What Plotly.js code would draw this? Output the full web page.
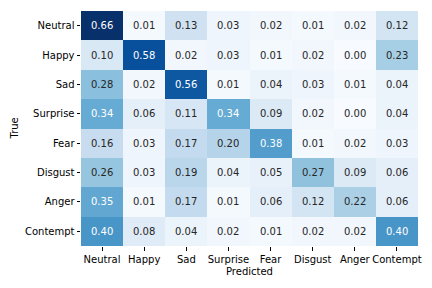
<!DOCTYPE html>
<html><head><meta charset="utf-8">
<script src="https://cdn.plot.ly/plotly-3.0.1.min.js"></script>
<style>html,body{margin:0;padding:0;background:#fff}#c{width:432px;height:288px}</style>
</head><body><div id="c"></div>
<script>
const labels = ["Neutral","Happy","Sad","Surprise","Fear","Disgust","Anger","Contempt"];
const rowNeutral  = [0.66,0.01,0.13,0.03,0.02,0.01,0.02,0.12];
const rowHappy    = [0.10,0.58,0.02,0.03,0.01,0.02,0.00,0.23];
const rowSad      = [0.28,0.02,0.56,0.01,0.04,0.03,0.01,0.04];
const rowSurprise = [0.34,0.06,0.11,0.34,0.09,0.02,0.00,0.04];
const rowFear     = [0.16,0.03,0.17,0.20,0.38,0.01,0.02,0.03];
const rowDisgust  = [0.26,0.03,0.19,0.04,0.05,0.27,0.09,0.06];
const rowAnger    = [0.35,0.01,0.17,0.01,0.06,0.12,0.22,0.06];
const rowContempt = [0.40,0.08,0.04,0.02,0.01,0.02,0.02,0.40];
const z = [rowNeutral,rowHappy,rowSad,rowSurprise,rowFear,rowDisgust,rowAnger,rowContempt];
const xTitle = "Predicted";
const yTitle = "True";

const blues = ["#f7fbff","#deebf7","#c6dbef","#9ecae1","#6baed6","#4292c6","#2171b5","#08519c","#08306b"];
const colorscale = blues.map((c,i)=>[i/(blues.length-1), c]);
let zmin = Infinity, zmax = -Infinity;
z.forEach(r=>r.forEach(v=>{zmin=Math.min(zmin,v);zmax=Math.max(zmax,v);}));

function hex2rgb(h){return [1,3,5].map(i=>parseInt(h.substr(i,2),16)/255);}
function colorAt(v){
  let t=(v-zmin)/(zmax-zmin); t=Math.max(0,Math.min(1,t));
  const p=t*(blues.length-1); const i=Math.min(Math.floor(p),blues.length-2); const f=p-i;
  const a=hex2rgb(blues[i]), b=hex2rgb(blues[i+1]);
  return a.map((x,k)=>x+(b[k]-x)*f);
}
function lum(rgb){
  const l=rgb.map(c=>c<=0.03928?c/12.92:Math.pow((c+0.055)/1.055,2.4));
  return 0.2126*l[0]+0.7152*l[1]+0.0722*l[2];
}
const W=432,H=288, M={l:81,r:14,t:11,b:42};
const pw=W-M.l-M.r, ph=H-M.t-M.b;
const annotations=[];
z.forEach((row,i)=>row.forEach((v,j)=>{
  annotations.push({x:labels[j],y:labels[i],text:v.toFixed(2),showarrow:false,
    font:{family:"DejaVu Sans",size:10,color: lum(colorAt(v))>0.408?"#262626":"#ffffff"}});
}));
annotations.push({xref:"paper",yref:"paper",x:0.5,y:-25/ph,yanchor:"middle",xanchor:"center",
  text:xTitle,showarrow:false,font:{family:"DejaVu Sans",size:10,color:"#000"}});
annotations.push({xref:"paper",yref:"paper",x:-67/pw,y:0.5,yanchor:"middle",xanchor:"center",textangle:-90,
  text:yTitle,showarrow:false,font:{family:"DejaVu Sans",size:10,color:"#000"}});

const trace={type:"heatmap",z:z,x:labels,y:labels,colorscale:colorscale,zmin:zmin,zmax:zmax,
  showscale:false,hoverinfo:"skip"};
const layout={
  width:W,height:H,margin:M,
  paper_bgcolor:"#fff",plot_bgcolor:"#fff",
  font:{family:"DejaVu Sans",size:10,color:"#000"},
  xaxis:{ticks:"outside",ticklen:3.5,tickcolor:"#000",
    tickangle:0,tickfont:{size:10},showgrid:false,zeroline:false,showline:false,automargin:false},
  yaxis:{autorange:"reversed",ticks:"outside",ticklen:3.5,tickcolor:"#000",
    tickangle:0,tickfont:{size:10},showgrid:false,zeroline:false,showline:false,automargin:false},
  annotations:annotations
};
Plotly.newPlot("c",[trace],layout,{staticPlot:true,displayModeBar:false});
</script></body></html>
